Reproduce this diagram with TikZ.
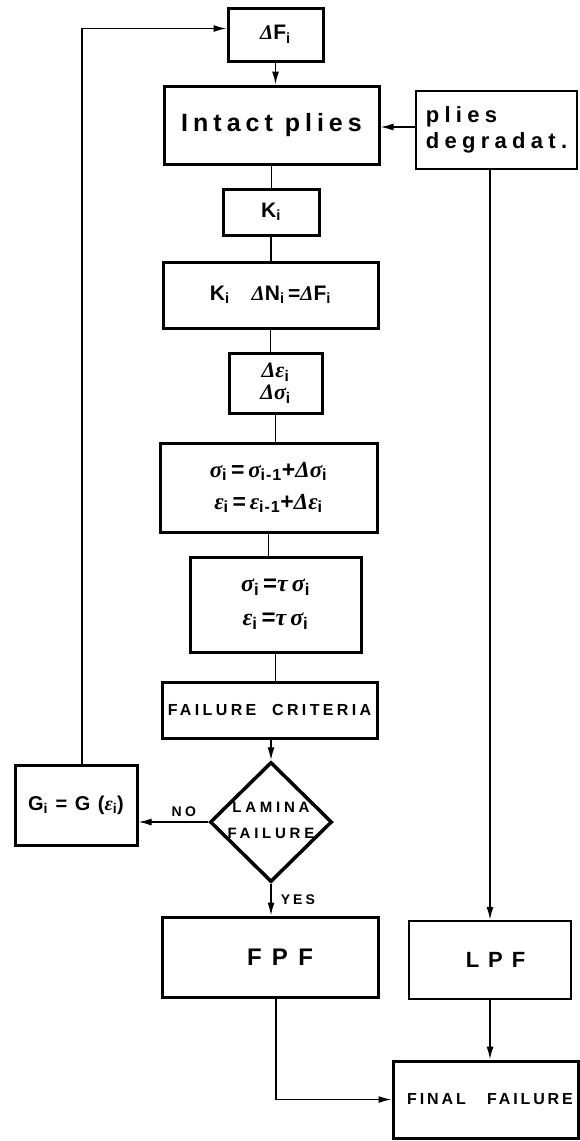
\documentclass[tikz,border=0pt]{standalone}
\usepackage{fontspec}
\setmainfont{Liberation Sans}
\newfontfamily\gkfont{Liberation Serif}
\usetikzlibrary{arrows.meta,shapes.geometric}
\newcommand\gr[1]{{\gkfont\bfseries\itshape #1}}
\newcommand\sbi[1]{\textsubscript{#1}}
\newcommand\fsz[3]{\fontsize{#1}{#2}\selectfont\bfseries\addfontfeatures{LetterSpace=#3}}
\begin{document}
\begin{tikzpicture}[x=1pt,y=-1pt,
  box/.style={draw,line width=3pt,inner sep=0pt,align=center},
  thinbox/.style={box,line width=2.4pt},
  conn/.style={line width=1.5pt},
  arr/.style={conn,-{Latex[length=13pt,width=7pt]}},
  lbl/.style={inner sep=1pt}]
\useasboundingbox (0,0) rectangle (579,1141);

\node[box,minimum width=95pt,minimum height=53pt,font=\fsz{21}{24}{8}] (dF) at (275.5,34.5) {\gr{Δ}F\sbi{i}};
\node[box,minimum width=215pt,minimum height=78pt,font=\fsz{25}{30}{20}] (int) at (271.5,125) {Intact plies};
\node[thinbox,minimum width=161pt,minimum height=78pt,align=left,font=\fsz{22}{26}{24}] (deg) at (496.5,130) {plies\\degradat.};
\node[box,minimum width=96pt,minimum height=46pt,font=\fsz{21}{24}{10}] (K) at (271,212) {K\sbi{i}};
\node[box,minimum width=215pt,minimum height=66pt,font=\fsz{21}{24}{20}] (KN) at (270.5,295) {K\sbi{i}\hspace{22pt}\gr{Δ}N\sbi{i}\,=\gr{Δ}F\sbi{i}};
\node[box,minimum width=93pt,minimum height=60pt,font=\fsz{22}{22}{6}] (de) at (275.5,383) {\gr{Δε}\sbi{i}\\\gr{Δσ}\sbi{i}};
\node[box,minimum width=217pt,minimum height=89pt,font=\fsz{23}{32}{6}] (sig) at (268.5,487.5) {\gr{σ}\sbi{i}\,=\,\gr{σ}\sbi{i-1}+\gr{Δσ}\sbi{i}\\\gr{ε}\sbi{i}\,=\,\gr{ε}\sbi{i-1}+\gr{Δε}\sbi{i}};
\node[box,minimum width=171pt,minimum height=95pt,font=\fsz{24}{34}{6}] (tau) at (275.5,604.5) {\gr{σ}\sbi{i}\,=\gr{τ\,σ}\sbi{i}\\\gr{ε}\sbi{i}\,=\gr{τ\,σ}\sbi{i}};
\node[box,minimum width=215pt,minimum height=56pt,font=\fsz{16}{20}{21}] (fc) at (269.5,710) {FAILURE\hspace{8pt} CRITERIA};
\node[draw,diamond,line width=3.5pt,minimum width=122pt,minimum height=120pt,inner sep=0pt,font=\fsz{15}{18}{25}] (dia) at (271,822)
  {\makebox[0pt]{\begin{tabular}{@{}c@{}}LAMINA\\[8pt]FAILURE\end{tabular}}};
\node[box,minimum width=122pt,minimum height=80pt,font=\fsz{20}{24}{10}] (G) at (76,805) {G\sbi{i} = G (\gr{ε}\sbi{i})};
\node[box,minimum width=216pt,minimum height=80pt,font=\fsz{24}{28}{15}] (FPF) at (270,957) {\hspace*{20pt}F P F};
\node[thinbox,minimum width=162pt,minimum height=78pt,font=\fsz{22}{26}{13}] (LPF) at (490,960) {\hspace*{11pt}L P F};
\node[box,minimum width=185pt,minimum height=77pt,font=\fsz{16}{19}{18}] (FF) at (485.5,1099.5) {\hspace*{9pt}FINAL\hspace{14pt} FAILURE};

\draw[arr] (dF.south) -- (dF.south |- int.north);
\draw[conn] (int.south) -- (int.south |- K.north);
\draw[conn] (K.south) -- (K.south |- KN.north);
\draw[conn] (KN.south) -- (KN.south |- de.north);
\draw[conn] (de.south) -- (de.south |- sig.north);
\draw[conn] (sig.south) -- (sig.south |- tau.north);
\draw[conn] (tau.south) -- (tau.south |- fc.north);
\draw[arr] (fc.south -| dia.north) -- (dia.north);
\draw[arr] (dia.west) -- (dia.west -| G.east) node[lbl,pos=0.35,above=4pt,font=\fsz{14}{17}{25}] (no) {NO};
\draw[arr] ([xshift=6pt]G.north) |- ([yshift=6pt]dF.west);
\draw[arr] (dia.south) -- (dia.south |- FPF.north) node[lbl,midway,right=8pt,font=\fsz{14}{17}{22}] (yes) {YES};
\draw[arr] ([yshift=3pt]deg.west) -- ([yshift=3pt]deg.west -| int.east);
\draw[arr] (LPF.north |- deg.south) -- (LPF.north);
\draw[arr] (LPF.south) -- (LPF.south |- FF.north);
\draw[arr] ([xshift=6pt]FPF.south) |- (FF.west);
\end{tikzpicture}
\end{document}
